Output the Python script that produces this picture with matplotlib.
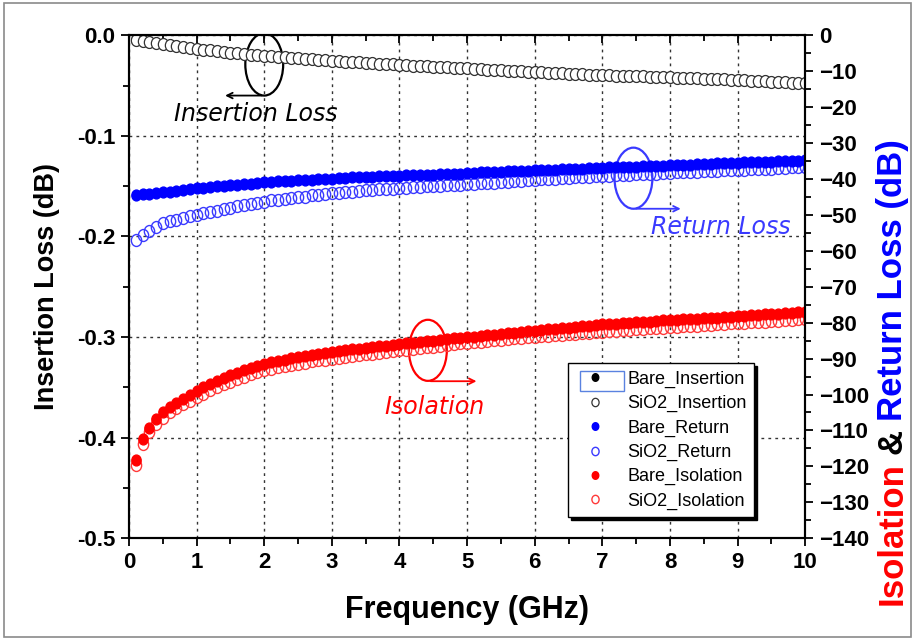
import numpy as np
import matplotlib
matplotlib.use('agg')
import matplotlib.pyplot as plt
from matplotlib.patches import Ellipse, Rectangle
from matplotlib.path import Path
from matplotlib.transforms import Affine2D
from matplotlib.ticker import MultipleLocator, FormatStrFormatter

plt.rcParams['font.family'] = ['Liberation Sans', 'DejaVu Sans']

# frequency sweep 0.1 .. 10 GHz, step 0.1
freq = np.round(np.arange(1, 101) * 0.1, 1)

# insertion loss (left axis, dB)
sio2_ins = [-0.005, -0.006, -0.007, -0.008, -0.009, -0.010, -0.011, -0.012, -0.013, -0.014,
            -0.015, -0.015, -0.016, -0.017, -0.018, -0.018, -0.019, -0.020, -0.020, -0.021,
            -0.021, -0.022, -0.022, -0.023, -0.023, -0.024, -0.024, -0.025, -0.025, -0.026,
            -0.026, -0.027, -0.027, -0.027, -0.028, -0.028, -0.029, -0.029, -0.029, -0.030,
            -0.030, -0.031, -0.031, -0.031, -0.032, -0.032, -0.032, -0.033, -0.033, -0.033,
            -0.034, -0.034, -0.035, -0.035, -0.035, -0.036, -0.036, -0.036, -0.037, -0.037,
            -0.037, -0.038, -0.038, -0.038, -0.039, -0.039, -0.039, -0.040, -0.040, -0.040,
            -0.040, -0.041, -0.041, -0.041, -0.041, -0.041, -0.042, -0.042, -0.042, -0.042,
            -0.043, -0.043, -0.043, -0.043, -0.044, -0.044, -0.044, -0.044, -0.045, -0.045,
            -0.045, -0.046, -0.046, -0.046, -0.047, -0.047, -0.047, -0.048, -0.048, -0.048]
bare_ins = list(sio2_ins)  # lies under the SiO2 points

# return loss (right axis, dB)
bare_ret = [-44.5, -44.3, -44.1, -43.9, -43.7, -43.5, -43.3, -43.1, -42.8, -42.6,
            -42.4, -42.2, -42.1, -41.9, -41.8, -41.6, -41.4, -41.3, -41.1, -40.9,
            -40.8, -40.7, -40.6, -40.5, -40.4, -40.3, -40.2, -40.1, -40.0, -39.9,
            -39.8, -39.7, -39.6, -39.6, -39.5, -39.4, -39.3, -39.2, -39.2, -39.1,
            -39.0, -38.9, -38.9, -38.8, -38.8, -38.7, -38.6, -38.6, -38.5, -38.4,
            -38.3, -38.2, -38.2, -38.1, -38.0, -37.9, -37.9, -37.8, -37.7, -37.6,
            -37.5, -37.5, -37.4, -37.3, -37.3, -37.2, -37.1, -37.0, -37.0, -36.9,
            -36.8, -36.8, -36.7, -36.6, -36.6, -36.5, -36.4, -36.4, -36.3, -36.2,
            -36.1, -36.1, -36.0, -35.9, -35.9, -35.8, -35.7, -35.7, -35.6, -35.5,
            -35.4, -35.4, -35.3, -35.2, -35.2, -35.1, -35.0, -35.0, -34.9, -34.8]
sio2_ret = [-57.1, -55.6, -54.4, -53.3, -52.4, -51.8, -51.3, -50.8, -50.4, -50.0,
            -49.6, -49.2, -48.8, -48.4, -48.0, -47.6, -47.3, -47.0, -46.6, -46.3,
            -46.0, -45.8, -45.5, -45.3, -45.1, -44.9, -44.6, -44.4, -44.2, -44.0,
            -43.8, -43.7, -43.5, -43.4, -43.2, -43.1, -42.9, -42.8, -42.7, -42.6,
            -42.5, -42.3, -42.2, -42.1, -42.0, -41.9, -41.8, -41.7, -41.6, -41.5,
            -41.4, -41.2, -41.1, -41.0, -40.9, -40.8, -40.6, -40.5, -40.4, -40.2,
            -40.1, -40.0, -39.9, -39.8, -39.7, -39.6, -39.5, -39.4, -39.3, -39.2,
            -39.1, -39.0, -38.9, -38.8, -38.7, -38.7, -38.6, -38.5, -38.4, -38.3,
            -38.2, -38.1, -38.0, -38.0, -37.9, -37.8, -37.7, -37.6, -37.6, -37.5,
            -37.4, -37.3, -37.2, -37.2, -37.1, -37.0, -36.9, -36.8, -36.8, -36.7]

# isolation (right axis, dB)
bare_iso = [-118.3, -112.5, -109.2, -106.8, -105.0, -103.6, -102.3, -101.2, -100.1, -99.0,
            -98.0, -97.0, -96.1, -95.3, -94.6, -93.9, -93.2, -92.6, -92.0, -91.4,
            -91.0, -90.6, -90.3, -89.9, -89.6, -89.3, -89.0, -88.7, -88.4, -88.1,
            -87.9, -87.6, -87.4, -87.2, -87.0, -86.8, -86.6, -86.4, -86.2, -86.0,
            -85.8, -85.6, -85.4, -85.2, -85.0, -84.8, -84.6, -84.4, -84.3, -84.1,
            -83.9, -83.7, -83.5, -83.3, -83.2, -83.0, -82.8, -82.6, -82.4, -82.2,
            -82.0, -81.9, -81.7, -81.5, -81.4, -81.2, -81.0, -80.8, -80.7, -80.5,
            -80.4, -80.3, -80.1, -80.0, -79.9, -79.8, -79.7, -79.6, -79.4, -79.3,
            -79.2, -79.1, -79.0, -78.9, -78.8, -78.7, -78.6, -78.4, -78.3, -78.2,
            -78.1, -78.0, -77.9, -77.7, -77.6, -77.5, -77.4, -77.3, -77.1, -77.0]
sio2_iso = [-119.7, -113.8, -110.4, -108.1, -106.4, -105.0, -103.8, -102.7, -101.7, -100.8,
            -99.8, -98.8, -97.9, -97.1, -96.4, -95.7, -95.0, -94.4, -93.8, -93.2,
            -92.8, -92.4, -92.1, -91.7, -91.4, -91.1, -90.8, -90.5, -90.3, -90.0,
            -89.8, -89.5, -89.3, -89.0, -88.8, -88.6, -88.4, -88.2, -87.9, -87.7,
            -87.5, -87.3, -87.1, -86.9, -86.7, -86.5, -86.3, -86.0, -85.8, -85.6,
            -85.4, -85.3, -85.1, -84.9, -84.8, -84.6, -84.4, -84.2, -84.1, -83.9,
            -83.8, -83.6, -83.5, -83.4, -83.2, -83.1, -82.9, -82.8, -82.7, -82.5,
            -82.4, -82.3, -82.1, -82.0, -81.9, -81.8, -81.6, -81.5, -81.4, -81.2,
            -81.1, -81.0, -80.9, -80.8, -80.7, -80.6, -80.5, -80.4, -80.2, -80.1,
            -80.0, -79.9, -79.8, -79.7, -79.6, -79.5, -79.4, -79.3, -79.1, -79.0]

BLUE = '#0000ff'
BLUE_O = '#3a3aff'
RED = '#ff0000'
RED_O = '#ff3a3a'

# slightly tall circles, like the stretched original
oval = Path.unit_circle().transformed(Affine2D().scale(0.86, 1.0))

fig = plt.figure(figsize=(9.15, 6.4), dpi=100)
ax1 = fig.add_axes([0.141, 0.159, 0.739, 0.786])
ax2 = ax1.twinx()

ms_f, ms_o = 7.8, 8.6
h1, = ax1.plot(freq, bare_ins, ls='none', marker=oval, color='k', ms=ms_f, label='Bare_Insertion')
h2, = ax1.plot(freq, sio2_ins, ls='none', marker=oval, mec='#333333', mfc='white', ms=ms_o,
               mew=0.9, label='SiO2_Insertion')
h3, = ax2.plot(freq, sio2_ret, ls='none', marker=oval, mec=BLUE_O, mfc='none', ms=ms_o,
               mew=1.0, label='SiO2_Return')
h4, = ax2.plot(freq, bare_ret, ls='none', marker=oval, color=BLUE, ms=ms_f, label='Bare_Return')
h5, = ax2.plot(freq, sio2_iso, ls='none', marker=oval, mec=RED_O, mfc='none', ms=ms_o,
               mew=1.0, label='SiO2_Isolation')
h6, = ax2.plot(freq, bare_iso, ls='none', marker=oval, color=RED, ms=ms_f, label='Bare_Isolation')

ax1.set_xlim(0, 10)
ax1.set_ylim(-0.5, 0.0)
ax2.set_ylim(-140, 0)

ax1.xaxis.set_major_locator(MultipleLocator(1))
ax1.xaxis.set_minor_locator(MultipleLocator(0.5))
ax1.yaxis.set_major_locator(MultipleLocator(0.1))
ax1.yaxis.set_minor_locator(MultipleLocator(0.05))
ax1.yaxis.set_major_formatter(FormatStrFormatter('%.1f'))
ax2.yaxis.set_major_locator(MultipleLocator(10))
ax2.yaxis.set_minor_locator(MultipleLocator(5))

for lab in ax1.get_xticklabels() + ax1.get_yticklabels() + ax2.get_yticklabels():
    lab.set_fontsize(16)
    lab.set_fontweight('bold')

ax1.tick_params(axis='both', which='major', direction='out', length=6, width=1.3, pad=4)
ax1.tick_params(axis='both', which='minor', direction='out', length=4, width=1.3)
ax1.tick_params(axis='x', which='both', top=True, labeltop=False)
ax2.tick_params(axis='y', which='major', direction='out', length=6, width=1.3, pad=4)
ax2.tick_params(axis='y', which='minor', direction='out', length=4, width=1.3)
# top ticks point inward
for t in ax1.xaxis.get_major_ticks() + ax1.xaxis.get_minor_ticks():
    t.tick2line.set_marker(3)

for sp in list(ax1.spines.values()) + list(ax2.spines.values()):
    sp.set_linewidth(1.5)

ax1.grid(True, which='major', linestyle=(0, (2, 3)), color='#333333', linewidth=1.0)
ax1.set_axisbelow(True)

ax1.set_xlabel('Frequency (GHz)', fontsize=22, fontweight='bold', labelpad=16)
ax1.set_ylabel('Insertion Loss (dB)', fontsize=19.5, fontweight='bold', labelpad=12)

# annotations
ann_font = dict(fontsize=17, style='italic', family=['DejaVu Sans'])
ax1.add_patch(Ellipse((2.0, -0.029), 0.56, 0.062, fill=False, ec='k', lw=1.6))
ax1.annotate('', xy=(1.38, -0.060), xytext=(2.0, -0.060),
             arrowprops=dict(arrowstyle='->', color='k', lw=1.3))
ax1.text(1.88, -0.078, 'Insertion Loss', color='k', ha='center', va='center', **ann_font)

ax2.add_patch(Ellipse((7.46, -39.8), 0.56, 17.0, fill=False, ec=BLUE_O, lw=1.6))
ax2.annotate('', xy=(8.2, -48.3), xytext=(7.46, -48.3),
             arrowprops=dict(arrowstyle='->', color=BLUE_O, lw=1.3))
ax2.text(8.75, -53.4, 'Return Loss', color=BLUE_O, ha='center', va='center', **ann_font)

ax2.add_patch(Ellipse((4.42, -87.7), 0.56, 17.0, fill=False, ec=RED, lw=1.6))
ax2.annotate('', xy=(5.18, -96.3), xytext=(4.42, -96.3),
             arrowprops=dict(arrowstyle='->', color=RED, lw=1.3))
ax2.text(4.52, -103.6, 'Isolation', color=RED, ha='center', va='center', **ann_font)

leg = ax2.legend([h1, h2, h4, h3, h6, h5],
                 ['Bare_Insertion', 'SiO2_Insertion', 'Bare_Return', 'SiO2_Return',
                  'Bare_Isolation', 'SiO2_Isolation'],
                 loc='lower left', bbox_to_anchor=(0.649, 0.042), fontsize=13,
                 frameon=True, fancybox=False, shadow={'color': 'k', 'alpha': 1},
                 edgecolor='k', framealpha=1, handlelength=2.2, handletextpad=0.7,
                 labelspacing=0.40, borderpad=0.4, borderaxespad=0, markerscale=0.7)
leg.get_frame().set_linewidth(1.0)
leg.set_zorder(10)

# right axis label in three colours
fig.canvas.draw()
renderer = fig.canvas.get_renderer()
y = 0.054
for s, c in [('Isolation', RED), ('&', 'k'), ('Return Loss (dB)', BLUE)]:
    t = fig.text(0.975, y, s, rotation=90, color=c, ha='center', va='bottom',
                 fontsize=25, fontweight='bold')
    bb = t.get_window_extent(renderer)
    y += bb.height / fig.bbox.height + 0.013

# selection box round the first legend symbol, as in the original
fig.patches.append(Rectangle((0.634, 0.389), 0.048, 0.031, transform=fig.transFigure,
                             fill=False, ec='#5a82e0', lw=1.0, zorder=20))

# outer frame of the picture
fig.patches.append(Rectangle((0.004, 0.005), 0.992, 0.99, transform=fig.transFigure,
                             fill=False, ec='#8a8a8a', lw=1.2))

fig.savefig('out.png', dpi=100)
